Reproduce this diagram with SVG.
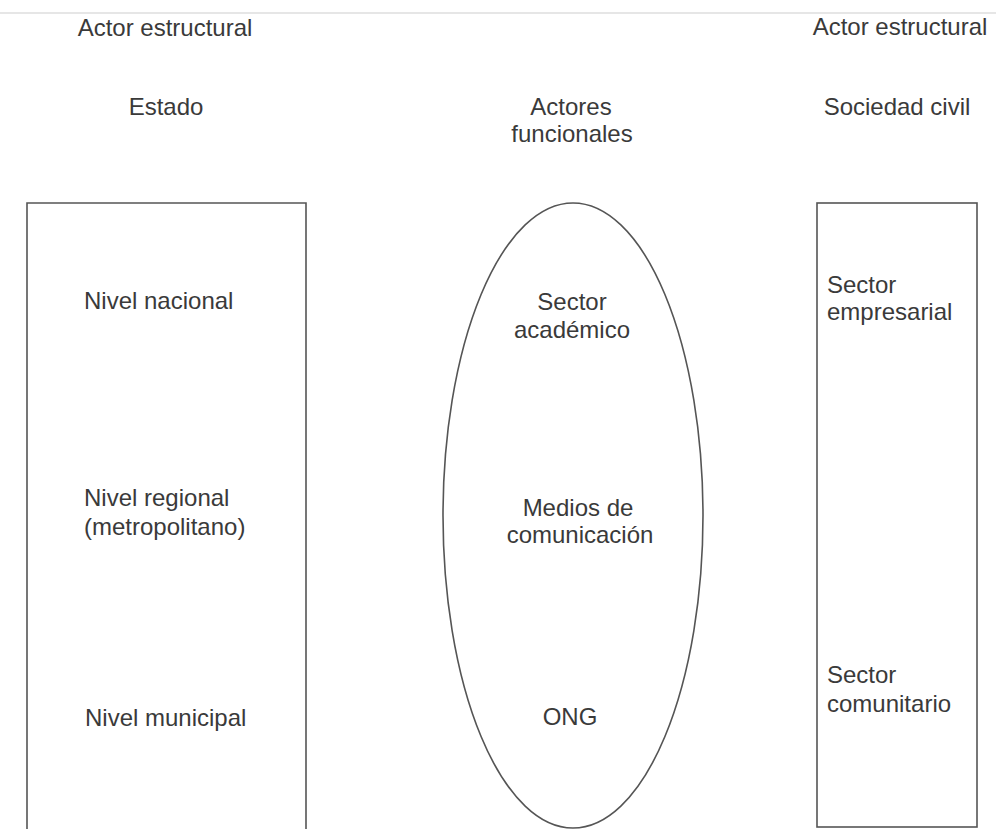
<svg xmlns="http://www.w3.org/2000/svg" width="996" height="829" viewBox="0 0 996 829">
<style>
text{font-family:"Liberation Sans",Arial,sans-serif;font-size:24px;fill:#3a3a3a}
.c{text-anchor:middle}
.shape{fill:none;stroke:#555;stroke-width:1.6}
</style>
<rect width="996" height="829" fill="#fff"/>
<line x1="0" y1="13" x2="996" y2="13" stroke="#e6e6e6" stroke-width="2"/>
<g id="headers">
<text class="c" x="165" y="36">Actor estructural</text>
<text class="c" x="166" y="115">Estado</text>
<text class="c" x="571" y="115">Actores</text>
<text class="c" x="572" y="142">funcionales</text>
<text class="c" x="900" y="35">Actor estructural</text>
<text class="c" x="897" y="115">Sociedad civil</text>
</g>
<g id="estado">
<path class="shape" d="M27,831 V203 H306 V831"/>
<text x="84" y="309">Nivel nacional</text>
<text x="84" y="506">Nivel regional</text>
<text x="84" y="535">(metropolitano)</text>
<text x="85" y="726">Nivel municipal</text>
</g>
<g id="actores-funcionales">
<ellipse class="shape" cx="573" cy="515.5" rx="130" ry="312.5"/>
<text class="c" x="572" y="310">Sector</text>
<text class="c" x="572" y="338">académico</text>
<text class="c" x="578" y="516">Medios de</text>
<text class="c" x="580" y="543">comunicación</text>
<text class="c" x="570" y="725">ONG</text>
</g>
<g id="sociedad-civil">
<rect class="shape" x="817" y="203" width="160" height="624"/>
<text x="827" y="293">Sector</text>
<text x="827" y="320">empresarial</text>
<text x="827" y="683">Sector</text>
<text x="827" y="712">comunitario</text>
</g>
<g id="connectors"></g>
</svg>
